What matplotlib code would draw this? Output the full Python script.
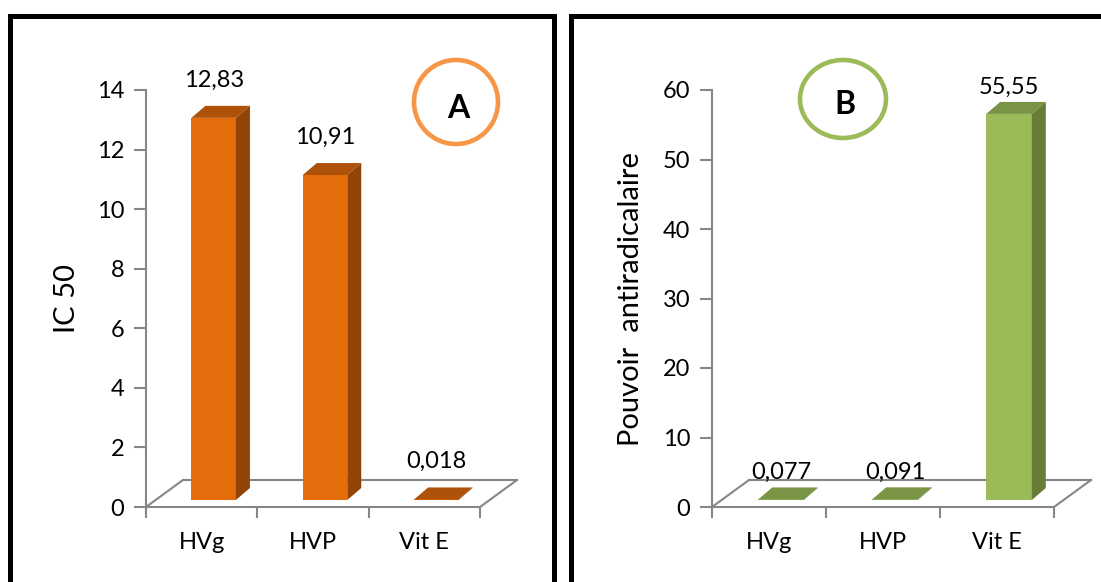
import matplotlib.pyplot as plt
from matplotlib.patches import Polygon, Ellipse, Rectangle

plt.rcParams['font.family'] = ['Lato', 'DejaVu Sans']

# values per sample
categories = ['HVg', 'HVP', 'Vit E']
ic50 = [12.83, 10.91, 0.018]
antiradical = [0.077, 0.091, 55.55]

ic50_ticks = [0, 2, 4, 6, 8, 10, 12, 14]
antiradical_ticks = [0, 10, 20, 30, 40, 50, 60]

W, H = 1101, 582
AXIS = '#868686'
FS = 17

fig = plt.figure(figsize=(W / 100, H / 100), dpi=100)


def px_axes(left, right, top, bottom):
    return fig.add_axes([left / W, 1 - bottom / H, (right - left) / W, (bottom - top) / H])


def px_to_data(ax, dx, dy):
    # size of a pixel offset expressed in data units
    x0, y0 = ax.transData.transform((0, 0))
    x1, y1 = ax.transData.inverted().transform((x0 + dx, y0 + dy))
    return x1, y1


def bar3d_panel(ax, values, ticks, colors, ylabel, label_gap):
    front, top, side = colors
    n = len(values)
    ax.set_xlim(-0.5, n - 0.5)
    ax.set_ylim(ticks[0], ticks[-1])

    for s in ['top', 'right']:
        ax.spines[s].set_visible(False)
    for s in ['left', 'bottom']:
        ax.spines[s].set_color(AXIS)
        ax.spines[s].set_linewidth(1.5)

    ax.set_yticks(ticks)
    ax.tick_params(axis='y', length=9, width=1.5, color=AXIS, pad=6.5, labelsize=FS)
    ax.set_xticks(range(n))
    ax.set_xticklabels(categories)
    ax.tick_params(axis='x', which='major', length=0, pad=18, labelsize=FS)
    ax.set_xticks([i - 0.5 for i in range(n + 1)], minor=True)
    ax.tick_params(axis='x', which='minor', length=8, width=1.5, color=AXIS)

    # floor of the 3D box
    fx, fy = px_to_data(ax, 37, 27)
    x_lo, x_hi = -0.5, n - 0.5
    ax.plot([x_lo + fx, x_hi + fx], [fy, fy], color=AXIS, lw=1.5, clip_on=False, zorder=1)
    ax.plot([x_lo, x_lo + fx], [0, fy], color=AXIS, lw=1.5, clip_on=False, zorder=1)
    ax.plot([x_hi, x_hi + fx], [0, fy], color=AXIS, lw=1.5, clip_on=False, zorder=1)

    # bars: front face, top and right side
    bx, by = px_to_data(ax, 12, 7)
    dx, dy = px_to_data(ax, 14, 12)
    w = 0.4
    for i, v in enumerate(values):
        xl = i - w / 2 + bx
        xr = i + w / 2 + bx
        y0 = by
        y1 = by + v
        ax.add_patch(Rectangle((xl, y0), w, v, facecolor=front, edgecolor='none',
                               clip_on=False, zorder=3))
        ax.add_patch(Polygon([(xl, y1), (xr, y1), (xr + dx, y1 + dy), (xl + dx, y1 + dy)],
                             closed=True, facecolor=top, edgecolor='none',
                             clip_on=False, zorder=3))
        ax.add_patch(Polygon([(xr, y0), (xr, y1), (xr + dx, y1 + dy), (xr + dx, y0 + dy)],
                             closed=True, facecolor=side, edgecolor='none',
                             clip_on=False, zorder=3))
        ax.annotate(f'{v:g}'.replace('.', ','), xy=(i, v), xytext=(12, 7 + label_gap),
                    textcoords='offset pixels', ha='center', va='center',
                    fontsize=FS, zorder=4)

    ax.text(-0.237, 0.5, ylabel, transform=ax.transAxes, rotation=90,
            ha='center', va='center', fontsize=21)


ax_a = px_axes(146, 480, 90, 507)
bar3d_panel(ax_a, ic50, ic50_ticks, ('#E46C0A', '#AE520A', '#924407'), 'IC 50', 38)

ax_b = px_axes(712, 1054, 90, 507)
bar3d_panel(ax_b, antiradical, antiradical_ticks, ('#9BBB59', '#7A9445', '#677C37'),
            'Pouvoir  antiradicalaire', 27)

# panel frames
for x0, x1 in [(10, 554), (571, 1115)]:
    fig.add_artist(Rectangle((x0 / W, 1 - 600 / H), (x1 - x0) / W, (600 - 16) / H,
                             transform=fig.transFigure, fill=False,
                             edgecolor='black', lw=3.6))

# panel badges
for (cx, cy, ew, eh), letter, ring in [((456, 102, 84, 84), 'A', '#F79646'),
                                       ((843, 99, 86, 78), 'B', '#9BBB59')]:
    fig.add_artist(Ellipse((cx / W, 1 - cy / H), ew / W, eh / H,
                           transform=fig.transFigure, fill=False,
                           edgecolor=ring, lw=3.3))
    fig.text((cx + 2) / W, 1 - (cy + 6) / H, letter, ha='center', va='center',
             fontsize=23, fontweight='bold')

fig.savefig('out.png', dpi=100)
